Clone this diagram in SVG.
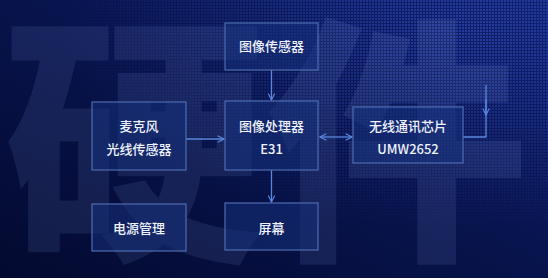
<svg xmlns="http://www.w3.org/2000/svg" width="548" height="278" viewBox="0 0 548 278">
  <defs>
    <linearGradient id="bg" x1="0" y1="1" x2="1" y2="0">
      <stop offset="0" stop-color="#030a30"/>
      <stop offset="0.55" stop-color="#08144e"/>
      <stop offset="1" stop-color="#112274"/>
    </linearGradient>
    <pattern id="dots" width="3" height="3" patternUnits="userSpaceOnUse">
      <rect x="0" y="0" width="2" height="2" fill="#3a55c8"/>
    </pattern>
    <radialGradient id="fade" cx="0.85" cy="0.1" r="0.75">
      <stop offset="0" stop-color="#fff" stop-opacity="0.55"/>
      <stop offset="0.6" stop-color="#fff" stop-opacity="0.2"/>
      <stop offset="1" stop-color="#fff" stop-opacity="0"/>
    </radialGradient>
    <mask id="m">
      <rect width="548" height="278" fill="url(#fade)"/>
    </mask>
    <marker id="ah" viewBox="0 0 10 10" refX="9" refY="5" markerWidth="8" markerHeight="8" markerUnits="userSpaceOnUse" orient="auto-start-reverse">
      <path d="M1,1 L9,5 L1,9" fill="none" stroke="#5b86dd" stroke-width="1.4"/>
    </marker>
    <style>
      .box { fill: #16307a; fill-opacity: 0.55; stroke: #4d6cb0; stroke-width: 1.2; }
      .t { font-family: "Noto Sans CJK SC", "Noto Sans", sans-serif; font-size: 13px; font-weight: 500; fill: #eef2fb; text-anchor: middle; }
      .c { fill: none; stroke: #5b86dd; stroke-width: 1.3; }
      .wm { font-family: "Noto Sans CJK SC", sans-serif; font-weight: 900; font-size: 262px; fill: #8ea2e6; fill-opacity: 0.12; }
    </style>
  </defs>

  <rect width="548" height="278" fill="url(#bg)"/>
  <rect width="548" height="278" fill="url(#dots)" mask="url(#m)"/>
  <text class="wm" x="4" y="240">硬件</text>

  <g id="connectors">
    <line class="c" x1="271.5" y1="70" x2="271.5" y2="100" marker-end="url(#ah)"/>
    <line class="c" x1="186" y1="139" x2="224" y2="139" marker-end="url(#ah)"/>
    <line class="c" x1="320" y1="137" x2="352" y2="137" marker-start="url(#ah)" marker-end="url(#ah)"/>
    <line class="c" x1="271.5" y1="170" x2="271.5" y2="202" marker-end="url(#ah)"/>
    <polyline class="c" points="463,137 486,137 486,85"/>
    <line class="c" x1="486" y1="100" x2="486" y2="115" marker-end="url(#ah)"/>
  </g>

  <g id="image-sensor">
    <rect class="box" x="225" y="23" width="93" height="47"/>
    <text class="t" x="271.5" y="51">图像传感器</text>
  </g>
  <g id="mic-light">
    <rect class="box" x="92" y="102" width="94" height="68"/>
    <text class="t" x="139" y="131">麦克风</text>
    <text class="t" x="139" y="154">光线传感器</text>
  </g>
  <g id="processor">
    <rect class="box" x="225" y="101" width="93" height="69"/>
    <text class="t" x="271.5" y="131">图像处理器</text>
    <text class="t" x="271.5" y="154">E31</text>
  </g>
  <g id="wireless">
    <rect class="box" x="353" y="107" width="110" height="56"/>
    <text class="t" x="408" y="131">无线通讯芯片</text>
    <text class="t" x="408" y="154">UMW2652</text>
  </g>
  <g id="power">
    <rect class="box" x="92" y="204" width="94" height="47"/>
    <text class="t" x="139" y="233">电源管理</text>
  </g>
  <g id="screen">
    <rect class="box" x="225" y="203" width="93" height="47"/>
    <text class="t" x="271.5" y="233">屏幕</text>
  </g>
</svg>
